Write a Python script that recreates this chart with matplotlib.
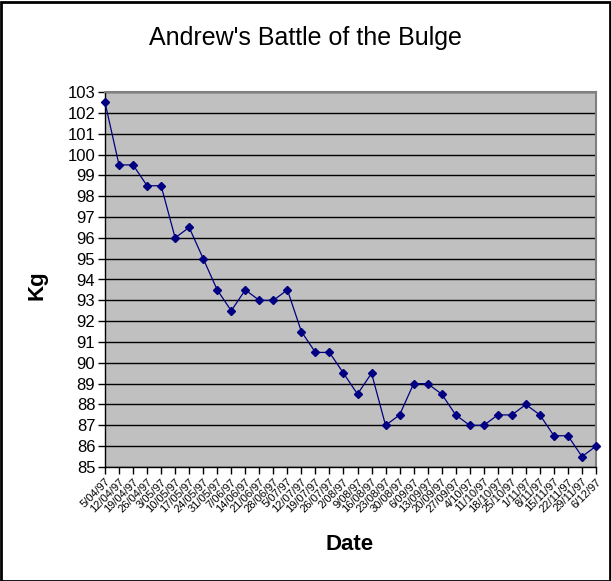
import matplotlib
matplotlib.use("Agg")
import matplotlib.pyplot as plt
from matplotlib.patches import Rectangle

dates = ["5/04/97", "12/04/97", "19/04/97", "26/04/97", "3/05/97", "10/05/97",
         "17/05/97", "24/05/97", "31/05/97", "7/06/97", "14/06/97", "21/06/97",
         "28/06/97", "5/07/97", "12/07/97", "19/07/97", "26/07/97", "2/08/97",
         "9/08/97", "16/08/97", "23/08/97", "30/08/97", "6/09/97", "13/09/97",
         "20/09/97", "27/09/97", "4/10/97", "11/10/97", "18/10/97", "25/10/97",
         "1/11/97", "8/11/97", "15/11/97", "22/11/97", "29/11/97", "6/12/97"]
weights = [102.5, 99.5, 99.5, 98.5, 98.5, 96, 96.5, 95, 93.5, 92.5, 93.5, 93,
           93, 93.5, 91.5, 90.5, 90.5, 89.5, 88.5, 89.5, 87, 87.5, 89, 89,
           88.5, 87.5, 87, 87, 87.5, 87.5, 88, 87.5, 86.5, 86.5, 85.5, 86]
y_ticks = list(range(85, 104))

plt.rcParams['font.family'] = ['Liberation Sans', 'DejaVu Sans']

fig = plt.figure(figsize=(6.11, 5.81), dpi=100)
ax = fig.add_axes([105/611, 1-467/581, (596-105)/611, (467-92)/581])
ax.set_facecolor('#C0C0C0')

x = list(range(len(dates)))
ax.plot(x, weights, color='#000080', linewidth=0.9, marker='D', markersize=4.5,
        markerfacecolor='#000080', markeredgecolor='#000080', clip_on=False, zorder=3)

ax.set_xlim(0, len(dates) - 1)
ax.set_ylim(85, 103)
ax.set_yticks(y_ticks)
ax.set_yticklabels([str(v) for v in y_ticks], fontsize=12)
ax.set_xticks(x)
ax.set_xticklabels(dates, rotation=45, ha='right', va='top', fontsize=8,
                   rotation_mode='anchor')
ax.grid(axis='y', color='black', linewidth=1)
ax.set_axisbelow(True)
ax.tick_params(axis='both', direction='out', length=5, width=1, color='black')
ax.tick_params(axis='x', pad=2)
ax.tick_params(axis='y', pad=2)

for s in ['left', 'bottom']:
    ax.spines[s].set_color('black')
    ax.spines[s].set_linewidth(1)
for s in ['top', 'right']:
    ax.spines[s].set_color('#808080')
    ax.spines[s].set_linewidth(1.5)

fig.text(305/611, 1-38/581, "Andrew's Battle of the Bulge", ha='center', va='center',
         fontsize=18)
fig.text(37/611, 1-285/581, "Kg", ha='center', va='center', rotation=90,
         fontsize=16, fontweight='bold')
fig.text(350/611, 1-544/581, "Date", ha='center', va='center',
         fontsize=16, fontweight='bold')

fig.patches.append(Rectangle((0.5/611, 0.5/581), 1-2/611, 1-2/581, transform=fig.transFigure,
                             fill=False, edgecolor='black', linewidth=2))

fig.savefig('out.png', dpi=100)
